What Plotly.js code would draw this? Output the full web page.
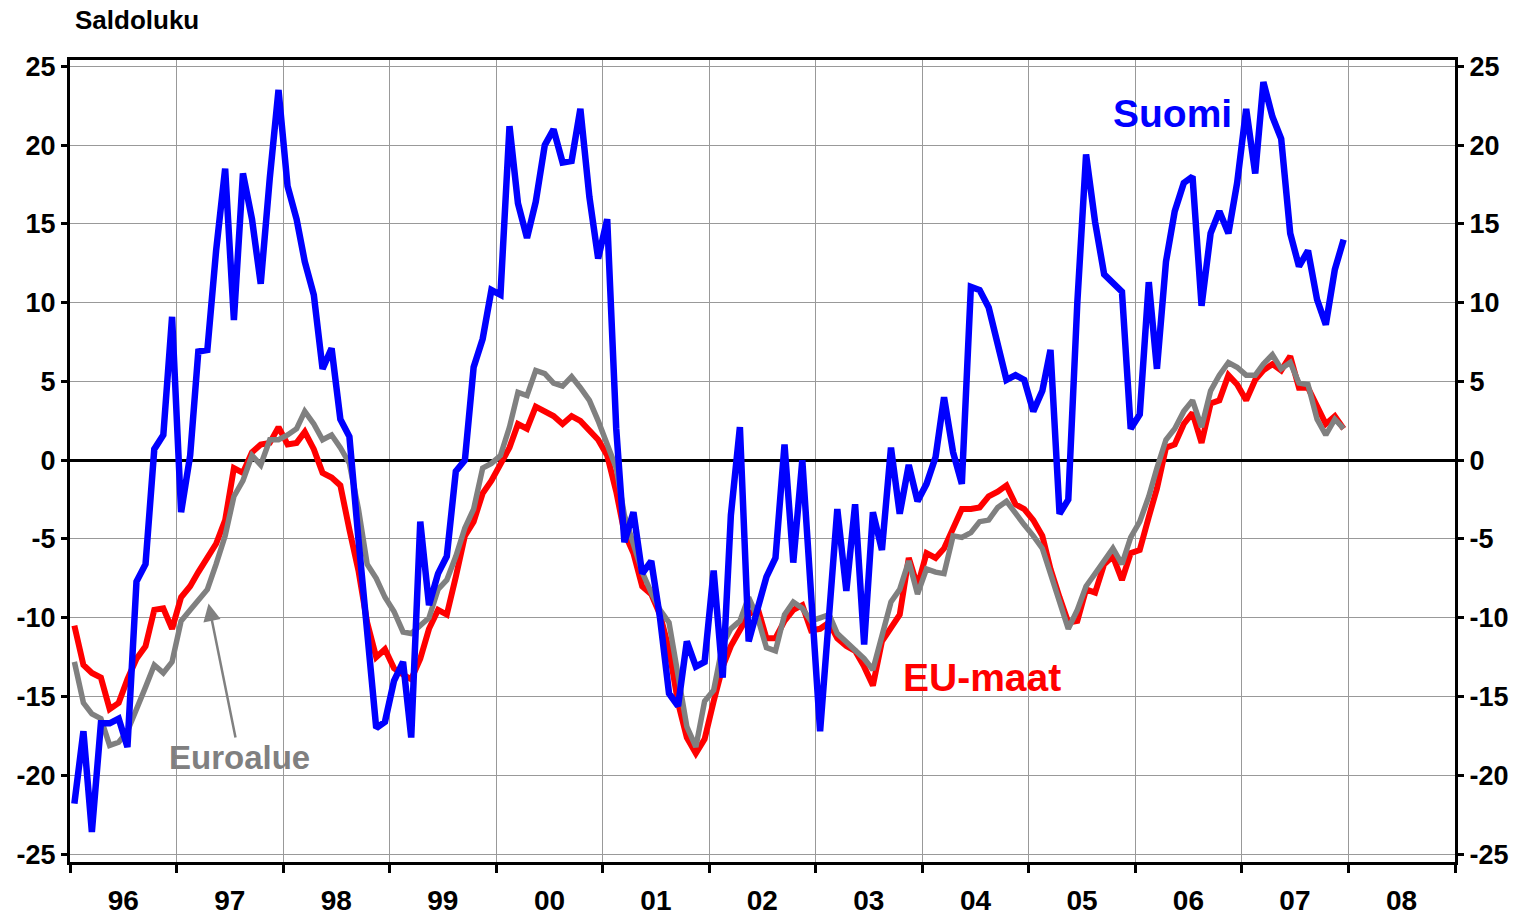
<!DOCTYPE html>
<html>
<head>
<meta charset="utf-8">
<script src="https://cdn.plot.ly/plotly-3.0.1.min.js"></script>
<style>html,body{margin:0;padding:0;background:#fff;}#chart{width:1525px;height:915px;}</style>
</head>
<body>
<div id="chart"></div>
<script>
// Monthly balance figures (saldoluku), Jan 1996 - Dec 2007
const startYear = 1996;
const yearLabels = ['96','97','98','99','00','01','02','03','04','05','06','07','08'];

const suomi = [
  -21.8, -17.2, -23.6, -16.7, -16.7, -16.4, -18.2, -7.7, -6.6, 0.7, 1.6, 9.1,
  -3.3, 0.3, 6.9, 7.0, 13.3, 18.5, 8.9, 18.2, 15.3, 11.2, 17.9, 23.5,
  17.4, 15.3, 12.6, 10.5, 5.8, 7.1, 2.6, 1.5, -5.0, -11.0, -17.0, -16.6,
  -14.0, -12.8, -17.6, -3.9, -9.2, -7.2, -6.1, -0.7, 0.0, 5.9, 7.7, 10.8,
  10.5, 21.2, 16.3, 14.1, 16.4, 20.0, 21.0, 18.9, 19.0, 22.3, 16.7, 12.8,
  15.3, 2.0, -5.2, -3.3, -7.2, -6.4, -10.0, -14.8, -15.6, -11.5, -13.1, -12.8,
  -7.0, -13.8, -3.5, 2.1, -11.5, -9.4, -7.4, -6.2, 1.0, -6.5, 0.0, -8.5,
  -17.2, -9.8, -3.1, -8.3, -2.8, -11.7, -3.3, -5.7, 0.8, -3.4, -0.3, -2.6,
  -1.5, 0.2, 4.0, 0.5, -1.5, 11.0, 10.8, 9.7, 7.3, 5.1, 5.4, 5.1,
  3.1, 4.4, 7.0, -3.4, -2.5, 10.0, 19.4, 15.1, 11.8, 11.2, 10.7, 2.0,
  2.9, 11.3, 5.8, 12.6, 15.8, 17.6, 18.0, 9.8, 14.4, 15.8, 14.4, 17.6,
  22.3, 18.2, 24.0, 21.8, 20.4, 14.4, 12.3, 13.3, 10.2, 8.6, 12.1, 14.0
];

const euMaat = [
  -10.5, -13.0, -13.5, -13.8, -15.8, -15.4, -13.9, -12.6, -11.8, -9.5, -9.4, -10.7,
  -8.7, -8.0, -7.1, -6.1, -5.3, -3.8, -0.5, -0.8, 0.5, 1.0, 1.1, 2.1,
  1.0, 1.1, 1.8, 0.7, -0.8, -1.1, -1.6, -4.4, -7.0, -10.3, -12.5, -12.0,
  -13.2, -13.6, -13.9, -12.6, -10.7, -9.5, -9.8, -7.4, -4.8, -3.9, -2.1, -1.3,
  -0.3, 0.8, 2.3, 2.0, 3.4, 3.1, 2.8, 2.3, 2.8, 2.5, 1.9, 1.3,
  0.3, -2.0, -4.6, -5.9, -8.0, -8.5, -9.8, -12.0, -15.4, -17.6, -18.6, -17.7,
  -15.3, -13.1, -11.8, -10.7, -9.8, -9.4, -11.3, -11.3, -10.2, -9.5, -9.2, -10.8,
  -10.7, -10.3, -11.3, -11.8, -12.1, -13.1, -14.3, -11.5, -10.7, -9.8, -6.2, -8.0,
  -5.9, -6.2, -5.6, -4.4, -3.1, -3.1, -3.0, -2.3, -2.0, -1.6, -2.8, -3.1,
  -3.8, -4.8, -6.9, -8.7, -10.3, -10.2, -8.2, -8.4, -6.6, -6.1, -7.6, -5.9,
  -5.7, -3.6, -1.8, 0.8, 1.0, 2.3, 3.0, 1.1, 3.6, 3.8, 5.4, 4.8,
  3.8, 5.1, 5.7, 6.1, 5.7, 6.6, 4.6, 4.6, 3.4, 2.3, 2.8, 2.0
];

const euroalue = [
  -12.8, -15.4, -16.1, -16.4, -18.1, -17.9, -17.2, -15.9, -14.4, -13.0, -13.5, -12.8,
  -10.2, -9.5, -8.9, -8.2, -6.6, -4.8, -2.3, -1.3, 0.3, -0.3, 1.3, 1.3,
  1.6, 2.0, 3.1, 2.3, 1.3, 1.6, 0.8, -0.2, -3.1, -6.6, -7.5, -8.7,
  -9.6, -10.9, -11.0, -10.5, -10.0, -8.2, -7.6, -6.1, -4.3, -3.1, -0.5, -0.2,
  0.3, 2.1, 4.3, 4.1, 5.7, 5.5, 4.9, 4.7, 5.3, 4.6, 3.8, 2.5,
  1.0, -0.5, -3.5, -5.4, -7.1, -8.4, -9.5, -10.3, -13.8, -16.9, -18.2, -15.3,
  -14.6, -11.7, -10.7, -10.2, -8.7, -10.0, -11.9, -12.1, -9.8, -9.0, -9.4, -10.2,
  -10.0, -9.8, -11.0, -11.5, -12.0, -12.6, -13.3, -11.0, -9.0, -8.2, -6.4, -8.5,
  -6.9, -7.1, -7.2, -4.8, -4.9, -4.6, -3.9, -3.8, -3.0, -2.6, -3.4, -4.1,
  -4.8, -5.6, -7.2, -8.9, -10.7, -9.5, -8.0, -7.2, -6.4, -5.6, -6.6, -4.9,
  -3.9, -2.3, -0.5, 1.3, 2.0, 3.1, 3.8, 2.1, 4.4, 5.4, 6.2, 5.9,
  5.4, 5.4, 6.1, 6.7, 5.8, 6.2, 4.9, 4.8, 2.6, 1.6, 2.6, 2.0
];

const yTicks = [-25, -20, -15, -10, -5, 0, 5, 10, 15, 20, 25];

// month dates (mid-month) as category positions on the time axis
const months = suomi.map((_, i) => {
  const y = startYear + Math.floor(i / 12);
  const m = (i % 12) + 1;
  return y + '-' + (m < 10 ? '0' + m : m) + '-16';
});
const yearMids = yearLabels.map((_, i) => (startYear + i) + '-07-02');
const lastYear = startYear + yearLabels.length;

const FONT = 'Liberation Sans, Arial, Helvetica, sans-serif';
const tickFont = {family: FONT, size: 27, color: '#000', weight: 'bold'};

const traces = [
  {x: months, y: euMaat, type: 'scatter', mode: 'lines', name: 'EU-maat',
   line: {color: '#ff0000', width: 6}, xaxis: 'x', yaxis: 'y', hoverinfo: 'skip'},
  {x: months, y: euroalue, type: 'scatter', mode: 'lines', name: 'Euroalue',
   line: {color: '#808080', width: 5.5}, xaxis: 'x', yaxis: 'y', hoverinfo: 'skip'},
  {x: months, y: suomi, type: 'scatter', mode: 'lines', name: 'Suomi',
   line: {color: '#0000ff', width: 6.5}, xaxis: 'x', yaxis: 'y2', hoverinfo: 'skip'}
];

const yRange = [-25.5, 25.4];

const layout = {
  width: 1525, height: 915,
  margin: {l: 70, r: 70, t: 60, b: 53},
  paper_bgcolor: '#fff', plot_bgcolor: '#fff',
  showlegend: false,
  title: {text: 'Saldoluku', x: 75 / 1525, xanchor: 'left', y: 1 - 20 / 915, yanchor: 'middle',
          font: {family: FONT, size: 26, color: '#000', weight: 'bold'}},
  xaxis: {
    type: 'date', range: [startYear + '-01-01', lastYear + '-01-01'],
    tickmode: 'array', tickvals: yearMids, ticktext: yearLabels,
    ticks: '', showgrid: false, zeroline: false,
    showline: true, linecolor: '#000', linewidth: 3, mirror: true,
    tickfont: {family: FONT, size: 28, color: '#000', weight: 'bold'}, ticklabelstandoff: 11,
    minor: {tickmode: 'linear', tick0: startYear + '-01-01', dtick: 'M12', ticks: 'outside', ticklen: 8,
            tickwidth: 3, tickcolor: '#000', showgrid: true, gridcolor: '#999999', gridwidth: 1}
  },
  yaxis: {
    range: yRange, tickmode: 'array', tickvals: yTicks, ticktext: yTicks.map(String),
    ticks: 'outside', ticklen: 6, tickwidth: 3, tickcolor: '#000',
    showline: true, linecolor: '#000', linewidth: 3,
    showgrid: true, gridcolor: '#999999', gridwidth: 1,
    zeroline: true, zerolinecolor: '#000', zerolinewidth: 3,
    tickfont: tickFont
  },
  yaxis2: {
    overlaying: 'y', side: 'right', range: yRange,
    tickmode: 'array', tickvals: yTicks, ticktext: yTicks.map(String),
    ticks: 'outside', ticklen: 6, tickwidth: 3, tickcolor: '#000',
    showline: true, linecolor: '#000', linewidth: 3,
    showgrid: false, zeroline: false,
    tickfont: tickFont
  },
  annotations: [
    {text: 'Suomi', x: '2006-05-10', y: 22.0, xref: 'x', yref: 'y', showarrow: false,
     font: {family: FONT, size: 39, color: '#0000ff', weight: 'bold'}},
    {text: 'EU-maat', x: '2004-07-25', y: -13.8, xref: 'x', yref: 'y', showarrow: false,
     font: {family: FONT, size: 39, color: '#ff0000', weight: 'bold'}},
    {text: 'Euroalue', x: '1997-04-20', y: -9.1, xref: 'x', yref: 'y',
     showarrow: true, ax: 31, ay: 154, axref: 'pixel', ayref: 'pixel',
     arrowcolor: '#808080', arrowwidth: 2.5, arrowhead: 2, arrowsize: 1.4,
     font: {family: FONT, size: 33, color: '#808080', weight: 'bold'}}
  ]
};

Plotly.newPlot('chart', traces, layout, {staticPlot: true, displayModeBar: false});
</script>
</body>
</html>
